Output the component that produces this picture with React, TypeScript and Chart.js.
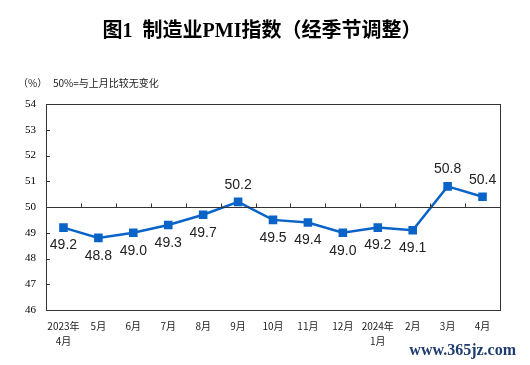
import React, { useEffect, useRef } from "react";
import { Chart, registerables } from "chart.js";

Chart.register(...registerables);

const categories: (string | string[])[] = [
  ["2023年", "4月"], "5月", "6月", "7月", "8月", "9月", "10月", "11月", "12月",
  ["2024年", "1月"], "2月", "3月", "4月",
];
const pmiValues = [49.2, 48.8, 49.0, 49.3, 49.7, 50.2, 49.5, 49.4, 49.0, 49.2, 49.1, 50.8, 50.4];
const yMin = 46;
const yMax = 54;
const baseline = 50;
const titleText = "图1  制造业PMI指数（经季节调整）";
const unitText = "（%）";
const noteText = "50%=与上月比较无变化";
const watermark = "www.365jz.com";

const overlay = {
  id: "overlay",
  afterDraw(chart: any) {
    const ctx = chart.ctx;
    const area = chart.chartArea;
    const x = chart.scales.x;
    const y = chart.scales.y;
    ctx.save();
    // frame
    ctx.strokeStyle = "#333";
    ctx.lineWidth = 1;
    ctx.strokeRect(Math.round(area.left) + 0.5, Math.round(area.top) + 0.5,
      Math.round(area.right - area.left), Math.round(area.bottom - area.top));
    // inward y ticks
    for (let v = yMin + 1; v < yMax; v++) {
      const py = Math.round(y.getPixelForValue(v)) + 0.5;
      ctx.beginPath();
      ctx.moveTo(area.left, py);
      ctx.lineTo(area.left + 4, py);
      ctx.stroke();
    }
    // baseline at 50
    const by = Math.round(y.getPixelForValue(baseline)) + 0.5;
    ctx.beginPath();
    ctx.moveTo(area.left, by);
    ctx.lineTo(area.right, by);
    ctx.stroke();
    for (let i = 0; i < categories.length - 1; i++) {
      const px = Math.round((x.getPixelForValue(i) + x.getPixelForValue(i + 1)) / 2) + 0.5;
      ctx.beginPath();
      ctx.moveTo(px, by);
      ctx.lineTo(px, by - 4);
      ctx.stroke();
    }
    ctx.restore();

    // data labels
    const meta = chart.getDatasetMeta(0);
    ctx.save();
    ctx.font = "14px 'Liberation Sans', Arial, sans-serif";
    ctx.fillStyle = "#222";
    ctx.textAlign = "center";
    ctx.textBaseline = "middle";
    meta.data.forEach((pt: any, i: number) => {
      const v = pmiValues[i];
      const dy = v >= baseline ? -17 : 18;
      ctx.fillText(v.toFixed(1), pt.x, pt.y + dy);
    });
    ctx.restore();

    // title and notes
    ctx.save();
    ctx.fillStyle = "#000";
    ctx.textAlign = "center";
    ctx.textBaseline = "middle";
    ctx.font = "bold 20px 'Liberation Serif', 'Noto Sans CJK SC', serif";
    ctx.fillText(titleText, 262, 32);
    ctx.textAlign = "left";
    ctx.font = "10px 'Noto Sans CJK SC', sans-serif";
    ctx.fillStyle = "#222";
    ctx.fillText(unitText, 18, 83);
    ctx.fillText(noteText, 53, 83);
    ctx.font = "bold 16px 'Liberation Serif', serif";
    ctx.fillStyle = "#1f3c6e";
    ctx.textAlign = "right";
    ctx.fillText(watermark, 516, 351);
    ctx.restore();
  },
};

export default function App() {
  const ref = useRef<HTMLCanvasElement>(null);
  useEffect(() => {
    if (!ref.current) return;
    const chart = new Chart(ref.current, {
      type: "line",
      data: {
        labels: categories,
        datasets: [
          {
            data: pmiValues,
            borderColor: "#0a64c8",
            backgroundColor: "#0a64c8",
            borderWidth: 2.5,
            pointStyle: "rect",
            pointRadius: 4.3,
            pointHoverRadius: 4.3,
            tension: 0,
          },
        ],
      },
      options: {
        animation: false,
        responsive: false,
        devicePixelRatio: 1,
        layout: { padding: { left: 0, top: 104, right: 30, bottom: 0 } },
        plugins: {
          legend: { display: false },
          title: { display: false },
          tooltip: { enabled: false },
        },
        scales: {
          x: {
            type: "category",
            offset: true,
            grid: { display: false, drawTicks: false },
            border: { display: false },
            ticks: {
              autoSkip: false,
              maxRotation: 0,
              padding: 9,
              color: "#222",
              font: { size: 10, family: "'Noto Sans CJK SC', sans-serif", lineHeight: 1.5 },
            },
            afterFit: (s: any) => { s.height = 55; },
          },
          y: {
            min: yMin,
            max: yMax,
            grid: { display: false, drawTicks: false },
            border: { display: false },
            ticks: {
              stepSize: 1,
              padding: 10,
              color: "#000",
              font: { size: 11, family: "'Liberation Serif', serif" },
            },
            afterFit: (s: any) => { s.width = 46; },
          },
        },
      },
      plugins: [overlay],
    });
    return () => chart.destroy();
  }, []);
  return (
    <div style={{ position: "absolute", left: 0, top: 0, width: 530, height: 365, background: "#fff" }}>
      <canvas ref={ref} width={530} height={365} style={{ width: 530, height: 365 }} />
    </div>
  );
}
